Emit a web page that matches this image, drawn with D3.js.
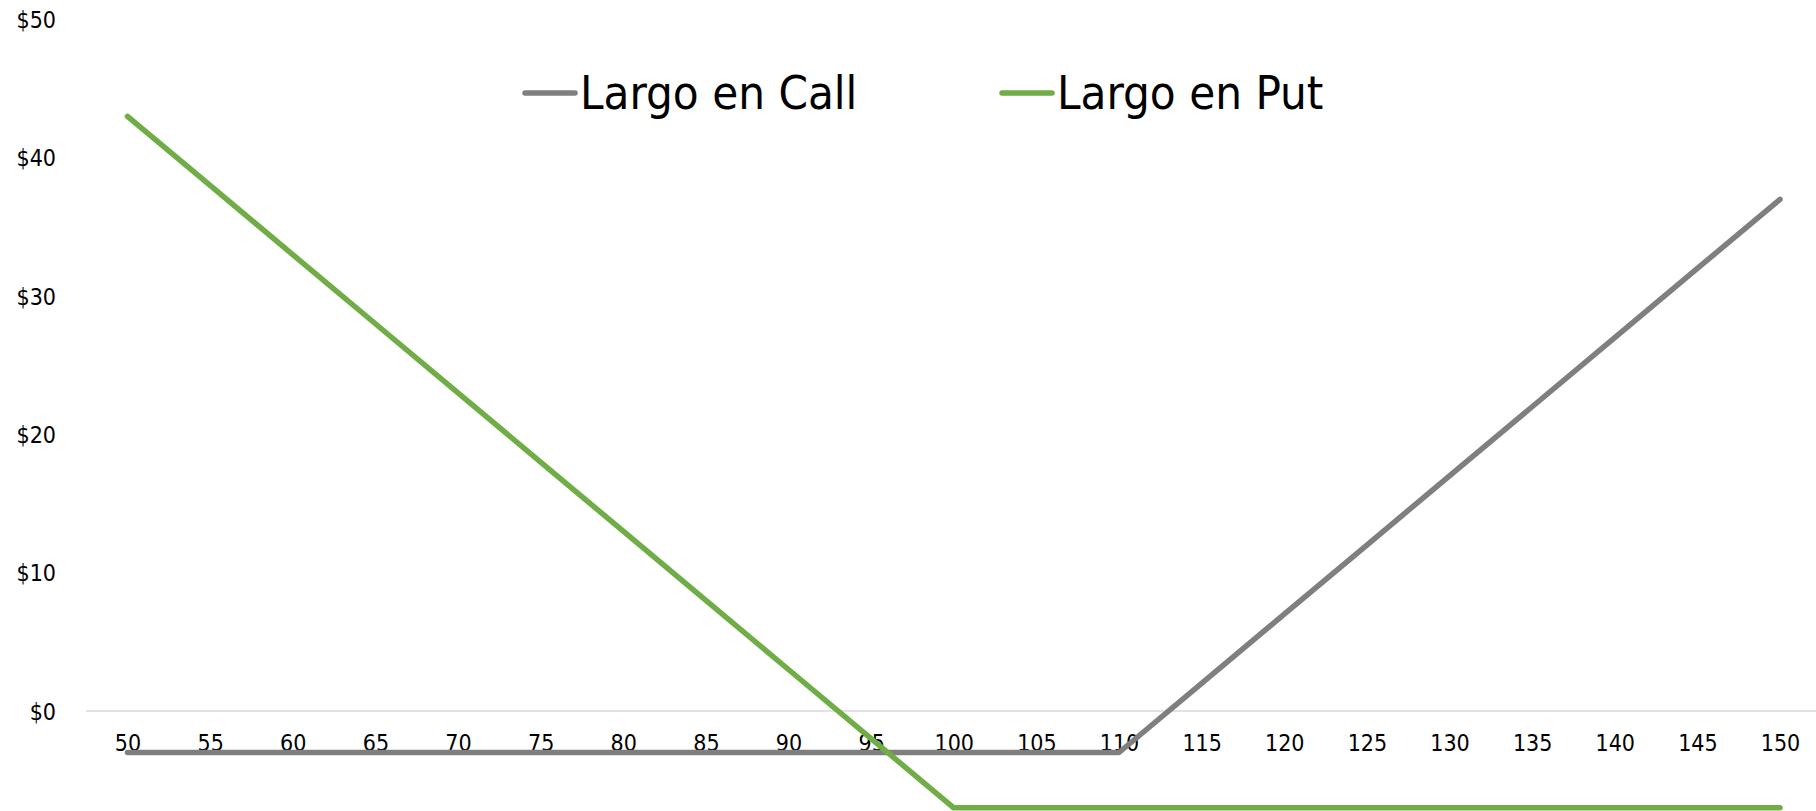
<!DOCTYPE html>
<html>
<head>
<meta charset="utf-8">
<script src="https://cdn.jsdelivr.net/npm/d3@7"></script>
<style>
  body { margin: 0; background: #fff; }
  svg { display: block; }
  text { font-family: "DejaVu Sans Condensed", "DejaVu Sans", sans-serif; fill: #000; }
</style>
</head>
<body>
<div id="chart"></div>
<script>
// data
const strikes = [50, 55, 60, 65, 70, 75, 80, 85, 90, 95, 100, 105, 110, 115, 120, 125, 130, 135, 140, 145, 150];
const largoCall = [-3, -3, -3, -3, -3, -3, -3, -3, -3, -3, -3, -3, -3, 2, 7, 12, 17, 22, 27, 32, 37];
const largoPut = [43, 38, 33, 28, 23, 18, 13, 8, 3, -2, -7, -7, -7, -7, -7, -7, -7, -7, -7, -7, -7];
const yTicks = [0, 10, 20, 30, 40, 50];
const seriesNames = [`Largo en Call`, `Largo en Put`];
const seriesColors = [`#7f7f7f`, `#70ad47`];

const W = 1816, H = 811;

let svg = d3.select(`#chart`).append(`svg`)
  .attr(`width`, W)
  .attr(`height`, H);

// scales
let x = d3.scalePoint().domain(strikes).range([127.5, 1780]);
let y = d3.scaleLinear().domain([0, 50]).range([711, 19.5]);

// zero line
svg.append(`line`)
  .attr(`x1`, 86).attr(`x2`, W)
  .attr(`y1`, y(0)).attr(`y2`, y(0))
  .attr(`stroke`, `#d9d9d9`)
  .attr(`stroke-width`, 1.5);

// y axis
let yAxis = svg.append(`g`)
  .attr(`transform`, `translate(56,0)`)
  .call(d3.axisLeft(y).tickValues(yTicks).tickSize(0).tickPadding(0).tickFormat(d => `$` + d));
yAxis.select(`.domain`).remove();
yAxis.selectAll(`text`)
  .attr(`font-size`, 23)
  .attr(`font-family`, null)
  .attr(`dy`, `0.35em`);

// x axis
let xAxis = svg.append(`g`)
  .attr(`transform`, `translate(0,` + y(0) + `)`)
  .call(d3.axisBottom(x).tickSize(0));
xAxis.select(`.domain`).remove();
xAxis.selectAll(`text`)
  .attr(`font-size`, 23)
  .attr(`font-family`, null)
  .attr(`y`, 32)
  .attr(`dy`, `0.35em`);

// lines
let line = d3.line()
  .x((d, i) => x(strikes[i]))
  .y(d => y(d));

[largoCall, largoPut].forEach((s, k) => {
  svg.append(`path`)
    .datum(s)
    .attr(`fill`, `none`)
    .attr(`stroke`, seriesColors[k])
    .attr(`stroke-width`, 5.5)
    .attr(`stroke-linecap`, `round`)
    .attr(`stroke-linejoin`, `round`)
    .attr(`d`, line);
});

// legend
let legendX = [525, 1002];
let legend = svg.append(`g`).attr(`class`, `legend`);
seriesNames.forEach((name, k) => {
  let g = legend.append(`g`).attr(`transform`, `translate(` + legendX[k] + `,93)`);
  g.append(`line`)
    .attr(`x1`, 0).attr(`x2`, 50)
    .attr(`stroke`, seriesColors[k])
    .attr(`stroke-width`, 5.5)
    .attr(`stroke-linecap`, `round`);
  g.append(`text`)
    .attr(`x`, 55)
    .attr(`dy`, `0.35em`)
    .attr(`font-size`, 47)
    .text(name);
});
</script>
</body>
</html>
